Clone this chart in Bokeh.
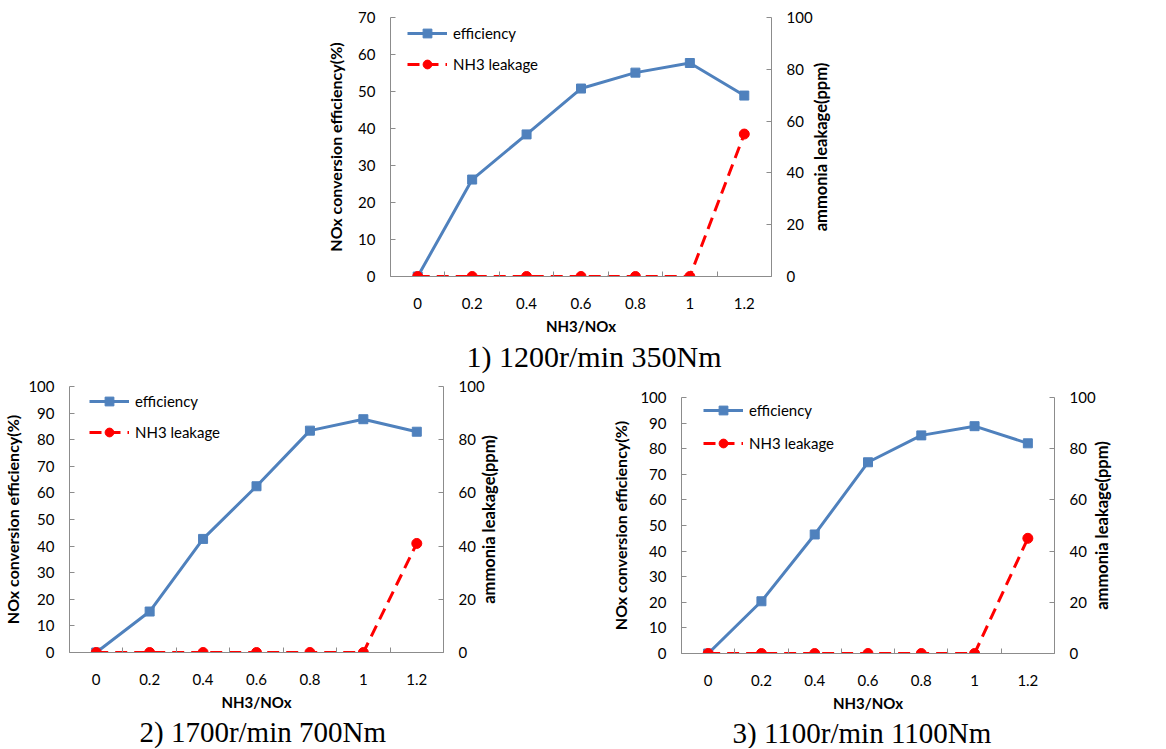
import math
from bokeh.plotting import figure
from bokeh.models import (Range1d, LinearAxis, FixedTicker, CustomJSTickFormatter,
                          Title, Legend, LegendItem)
from bokeh.core.properties import value
from bokeh.layouts import column, row
from bokeh.embed import file_html
from bokeh.resources import INLINE

# ---------------- data ----------------
ratio = [0, 0.2, 0.4, 0.6, 0.8, 1.0, 1.2]
ratio_labels = ["0", "0.2", "0.4", "0.6", "0.8", "1", "1.2"]
between_ticks = [-0.1, 0.1, 0.3, 0.5, 0.7, 0.9, 1.1, 1.3]

eff_1 = [0, 26.2, 38.4, 50.8, 55.1, 57.7, 48.9]
nh3_1 = [0, 0, 0, 0, 0, 0, 55]
eff_2 = [0, 15.4, 42.7, 62.5, 83.4, 87.7, 83.0]
nh3_2 = [0, 0, 0, 0, 0, 0, 41]
eff_3 = [0, 20.4, 46.5, 74.7, 85.2, 88.8, 82.1]
nh3_3 = [0, 0, 0, 0, 0, 0, 45]

left_ticks_1 = [0, 10, 20, 30, 40, 50, 60, 70]
left_ticks_23 = [0, 10, 20, 30, 40, 50, 60, 70, 80, 90, 100]
right_ticks = [0, 20, 40, 60, 80, 100]

captions = ["1) 1200r/min 350Nm", "2) 1700r/min 700Nm", "3) 1100r/min 1100Nm"]

x_title = "NH3/NOx"
left_title = "NOx conversion efficiency(%)"
right_title = "ammonia leakage(ppm)"
legend_names = ["efficiency", "NH3 leakage"]

# ---------------- styling ----------------
FONT = "Lato"
BLUE = "#4F81BD"
RED = "#FF0000"
AXIS_GRAY = "#8c8c8c"
X_MIN, X_MAX = -0.1, 1.3
NH3_MIN, NH3_MAX = 0, 100


def style_axis(ax, tick_size="15px", title_size="16px"):
    ax.axis_line_color = AXIS_GRAY
    ax.axis_line_width = 1
    ax.major_tick_line_color = AXIS_GRAY
    ax.minor_tick_line_color = AXIS_GRAY
    ax.major_label_text_font = FONT
    ax.major_label_text_font_size = tick_size
    ax.major_label_text_color = "#000000"
    ax.axis_label_text_font = FONT
    ax.axis_label_text_font_size = title_size
    ax.axis_label_text_font_style = "bold"
    ax.axis_label_text_color = "#000000"


def make_chart(eff, nh3, ymax, left_ticks, caption, width, height,
               mb_left, mb_right, mb_top, mb_bottom,
               left_label_standoff, right_title_dx,
               legend_x, legend_y, legend_spacing, caption_offset,
               caption_size):
    p = figure(width=width, height=height, output_backend="svg",
               toolbar_location=None, x_range=Range1d(X_MIN, X_MAX),
               y_range=Range1d(0, ymax),
               min_border_left=mb_left, min_border_right=mb_right,
               min_border_top=mb_top, min_border_bottom=mb_bottom)
    p.frame_align = False
    p.outline_line_color = None
    p.xgrid.visible = False
    p.ygrid.visible = False
    p.background_fill_color = "white"
    p.border_fill_color = "white"
    p.extra_y_ranges = {"nh3": Range1d(NH3_MIN, NH3_MAX)}

    # x axis
    xa = p.xaxis[0]
    xa.ticker = FixedTicker(ticks=ratio, minor_ticks=between_ticks)
    xa.formatter = CustomJSTickFormatter(
        args=dict(vals=ratio, labs=ratio_labels),
        code="const i = vals.findIndex(t => Math.abs(t - tick) < 1e-9); return i >= 0 ? labs[i] : '';")
    style_axis(xa, title_size="15px")
    xa.major_tick_in = 0
    xa.major_tick_out = 0
    xa.minor_tick_in = 5
    xa.minor_tick_out = 0
    xa.major_label_standoff = 21
    xa.axis_label = x_title
    xa.axis_label_standoff = 5

    # left axis
    ya = p.yaxis[0]
    ya.ticker = FixedTicker(ticks=left_ticks, minor_ticks=[])
    style_axis(ya)
    ya.major_tick_in = 5
    ya.major_tick_out = 0
    ya.major_label_standoff = 15
    ya.axis_label = left_title
    ya.axis_label_standoff = left_label_standoff

    # right axis
    ra = LinearAxis(y_range_name="nh3",
                    ticker=FixedTicker(ticks=right_ticks, minor_ticks=[]))
    style_axis(ra)
    ra.major_tick_in = 5
    ra.major_tick_out = 0
    ra.major_label_standoff = 15
    p.add_layout(ra, "right")

    # right axis title, reading bottom-to-top, beside the right axis
    p.text(x=[X_MAX], y=[(NH3_MIN + NH3_MAX) / 2], text=[right_title],
           y_range_name="nh3", x_offset=right_title_dx, angle=math.pi / 2,
           text_align="center", text_baseline="middle",
           text_font=value(FONT), text_font_size=value("16.5px"),
           text_font_style="bold", text_color="#000000", level="annotation")

    # series
    l1 = p.line(ratio, eff, line_color=BLUE, line_width=3)
    s1 = p.scatter(ratio, eff, marker="square", size=9, fill_color=BLUE,
                   line_color=BLUE)
    l2 = p.line(ratio, nh3, line_color=RED, line_width=3, line_dash="12 7",
                y_range_name="nh3")
    s2 = p.scatter(ratio, nh3, marker="circle", size=10, fill_color=RED,
                   line_color=RED, y_range_name="nh3")

    legend = Legend(items=[LegendItem(label=legend_names[0], renderers=[l1, s1]),
                           LegendItem(label=legend_names[1], renderers=[l2, s2])],
                    location=(legend_x, legend_y))
    legend.padding = 0
    legend.margin = 0
    legend.glyph_width = 40
    legend.glyph_height = 22
    legend.label_height = 22
    legend.label_standoff = 6
    legend.spacing = legend_spacing
    legend.border_line_alpha = 0
    legend.background_fill_alpha = 0
    legend.label_text_font = FONT
    legend.label_text_font_size = "15px"
    legend.label_text_color = "#000000"
    p.add_layout(legend, "center")

    t = Title(text=caption, align="left", text_font="Liberation Serif",
              text_font_size=caption_size, text_font_style="normal",
              text_color="#000000", standoff=0, offset=caption_offset)
    p.add_layout(t, "below")
    return p


# frame boxes (page px): chart1 x 390-771, y 17-276; chart2 x 68-443, y 386-652;
# chart3 x 681-1054, y 397-655
p1 = make_chart(eff_1, nh3_1, 70, left_ticks_1, captions[0], 880, 374,
                390, 109, 17, 98, 10, 49, 17, 201, 9, 76, "30px")
p2 = make_chart(eff_2, nh3_2, 100, left_ticks_23, captions[1], 578, 374,
                68, 135, 12, 96, 3, 45, 20, 209, 9, 70, "29px")
p3 = make_chart(eff_3, nh3_3, 100, left_ticks_23, captions[2], 586, 374,
                103, 110, 23, 93, 7, 47, 22, 199, 11, 51, "29px")

layout = column(p1, row(p2, p3))

with open("out.html", "w") as f:
    f.write(file_html(layout, INLINE))
